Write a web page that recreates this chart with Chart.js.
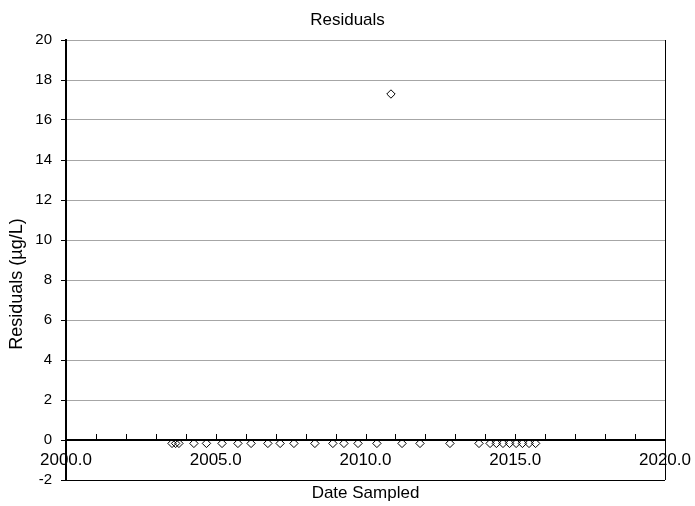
<!DOCTYPE html>
<html>
<head>
<meta charset="utf-8">
<script src="https://cdn.jsdelivr.net/npm/chart.js@4/dist/chart.umd.min.js"></script>
<style>
  html, body { margin: 0; padding: 0; background: #ffffff; }
  #wrap { width: 695px; height: 506px; }
</style>
</head>
<body>
<div id="wrap"><canvas id="chart" width="695" height="506"></canvas></div>
<script>
// Sampling dates (decimal years) and the residual at each date
const sampleDates = [
  2003.54, 2003.66, 2003.77, 2004.27, 2004.69, 2005.21, 2005.74, 2006.18,
  2006.74, 2007.15, 2007.61, 2008.31, 2008.91, 2009.28, 2009.75, 2010.38,
  2010.85, 2011.22, 2011.82, 2012.82, 2013.79, 2014.16, 2014.37, 2014.59,
  2014.81, 2015.03, 2015.24, 2015.46, 2015.68
];
const residuals = [
  -0.17, -0.17, -0.17, -0.17, -0.17, -0.17, -0.17, -0.17,
  -0.17, -0.17, -0.17, -0.17, -0.17, -0.17, -0.17, -0.17,
  17.3, -0.17, -0.17, -0.17, -0.17, -0.17, -0.17, -0.17,
  -0.17, -0.17, -0.17, -0.17, -0.17
];
const xTickValues = [2000, 2005, 2010, 2015, 2020];
const yTickValues = [-2, 0, 2, 4, 6, 8, 10, 12, 14, 16, 18, 20];
const yAxisTitle = 'Residuals (µg/L)';

const FONT = 'Liberation Sans, Arial, sans-serif';

// Minor year ticks on the zero line, and the right-hand frame edge
const frameAndTicks = {
  id: 'frameAndTicks',
  beforeDatasetsDraw(chart) {
    const { ctx, chartArea, scales } = chart;
    const x = scales.x, y = scales.y;
    const y0 = Math.round(y.getPixelForValue(0));
    ctx.save();
    ctx.strokeStyle = '#000';
    ctx.lineWidth = 1;
    ctx.beginPath();
    for (let yr = x.min; yr <= x.max; yr += 1) {
      const px = Math.round(x.getPixelForValue(yr)) + 0.5;
      ctx.moveTo(px, y0 - 6);
      ctx.lineTo(px, y0);
    }
    const r = Math.round(chartArea.right) + 0.5;
    ctx.moveTo(r, chartArea.top);
    ctx.lineTo(r, chartArea.bottom);
    ctx.stroke();
    ctx.restore();
  },
  // vertical axis title, set a little below the middle of the axis
  afterDraw(chart) {
    const { ctx, scales } = chart;
    const y = scales.y;
    const cy = y.getPixelForValue(7.8);
    ctx.save();
    ctx.translate(17, cy);
    ctx.rotate(-Math.PI / 2);
    ctx.fillStyle = '#000';
    ctx.font = '18px ' + FONT;
    ctx.textAlign = 'center';
    ctx.textBaseline = 'middle';
    ctx.fillText(yAxisTitle, 0, 0);
    ctx.restore();
  }
};

new Chart(document.getElementById('chart'), {
  type: 'scatter',
  data: {
    datasets: [{
      label: 'Residuals',
      data: sampleDates.map((d, i) => ({ x: d, y: residuals[i] })),
      pointStyle: 'rectRot',
      pointRadius: 4.2,
      pointHoverRadius: 4.2,
      pointBorderColor: '#000',
      pointBackgroundColor: 'rgba(0,0,0,0)',
      pointBorderWidth: 1,
      showLine: false
    }]
  },
  plugins: [frameAndTicks],
  options: {
    responsive: false,
    animation: false,
    events: [],
    layout: { padding: 0 },
    plugins: {
      legend: { display: false },
      tooltip: { enabled: false },
      title: {
        display: true,
        text: 'Residuals',
        color: '#000',
        font: { family: FONT, size: 17, weight: 'normal' },
        padding: { top: 10, bottom: 9.6 }
      },
      subtitle: {
        display: true,
        position: 'bottom',
        fullSize: false,
        text: 'Date Sampled',
        color: '#000',
        font: { family: FONT, size: 17, weight: 'normal' },
        padding: { top: 3, bottom: 2.6 }
      }
    },
    scales: {
      x: {
        type: 'linear',
        position: { y: 0 },
        min: 2000,
        max: 2020,
        afterBuildTicks(scale) { scale.ticks = xTickValues.map(v => ({ value: v })); },
        afterFit(scale) { scale.paddingLeft = 0; scale.paddingRight = 0; },
        ticks: {
          color: '#000',
          font: { family: FONT, size: 17 },
          padding: 10,
          maxRotation: 0,
          callback: v => Number(v).toFixed(1)
        },
        grid: { display: true, drawOnChartArea: false, drawTicks: false },
        border: { display: true, color: '#000', width: 2 }
      },
      y: {
        min: -2,
        max: 20,
        afterBuildTicks(scale) { scale.ticks = yTickValues.map(v => ({ value: v })); },
        afterFit(scale) { scale.width = 66; scale.paddingTop = 0; scale.paddingBottom = 0; },
        ticks: {
          color: '#000',
          font: { family: FONT, size: 15 },
          padding: 9,
          callback: v => String(v)
        },
        grid: {
          color: ctx => (ctx.tick && ctx.tick.value === -2) ? '#000' : '#a6a6a6',
          lineWidth: 1,
          drawTicks: true,
          tickLength: 5,
          tickColor: '#000'
        },
        border: { display: true, color: '#000', width: 2 },
        title: { display: false }
      },
      // empty right-hand column that reserves room beside the plot
      yRight: {
        position: 'right',
        min: -2,
        max: 20,
        afterFit(scale) { scale.width = 30; },
        ticks: { display: false },
        grid: { display: false },
        border: { display: false }
      }
    }
  }
});
</script>
</body>
</html>
